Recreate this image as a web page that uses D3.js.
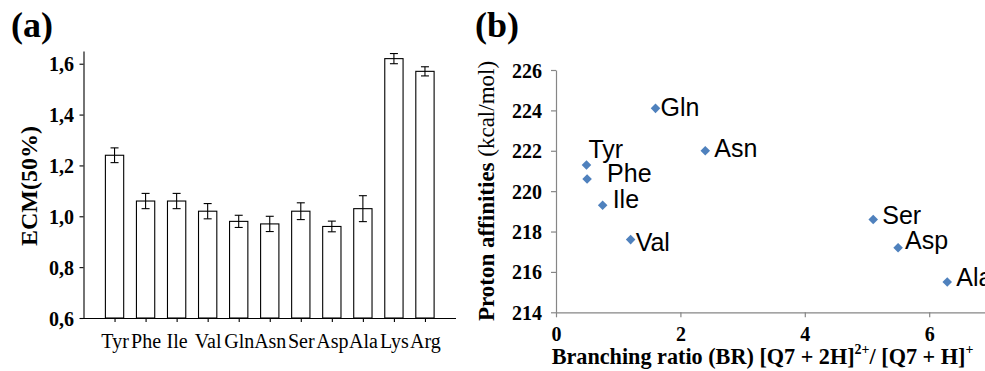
<!DOCTYPE html>
<html><head><meta charset="utf-8">
<script src="https://cdn.jsdelivr.net/npm/d3@7"></script>
<style>body{margin:0;background:#fff}svg{display:block}</style>
</head><body>
<svg id="c" width="985" height="371"></svg>
<script>
// Panel (a) data
const categoriesA = ["Tyr","Phe","Ile","Val","Gln","Asn","Ser","Asp","Ala","Lys","Arg"];
const ecmValues   = [1.24, 1.06, 1.06, 1.02, 0.98, 0.97, 1.02, 0.96, 1.03, 1.62, 1.57];
const ecmErrors   = [0.029,0.03,0.03,0.03,0.024,0.03,0.033,0.021,0.051,0.02,0.018];
const yTicksA     = [0.6, 0.8, 1.0, 1.2, 1.4, 1.6];

// Panel (b) data
const pointNames  = ["Gln","Asn","Tyr","Phe","Ile","Val","Ser","Asp","Ala"];
const branching   = [1.6, 2.4, 0.49, 0.5, 0.75, 1.2, 5.1, 5.5, 6.29];
const protonAff   = [224.1, 222.0, 221.3, 220.6, 219.3, 217.6, 218.6, 217.2, 215.5];
const xTicksB     = [0, 2, 4, 6];
const yTicksB     = [214, 216, 218, 220, 222, 224, 226];
// label offsets (px) relative to each point
const labelDx = [5, 9, 2, 20, 10, 5, 9, 7, 9];
const labelDy = [7.5, 6.7, -7.3, 3, 2.4, 11.7, 4.7, 1.3, 4.3];

const svg = d3.select("#c");
const serif = "'Liberation Serif','Times New Roman',serif";
const sans = "'Liberation Sans',Arial,sans-serif";

// ---------- Panel (a) ----------
const xA = d3.scalePoint().domain(categoriesA).range([83.5, 456]).padding(1);
const yA = d3.scaleLinear().domain([0.6, 1.65]).range([318, 51]);
const gA = svg.append("g");
const barW = 18.3;

gA.selectAll("rect.bar").data(categoriesA).join("rect")
  .attr("x", d => xA(d) - barW/2)
  .attr("y", (d,i) => yA(ecmValues[i]))
  .attr("width", barW)
  .attr("height", (d,i) => yA(0.6) - yA(ecmValues[i]))
  .attr("fill", "#fff").attr("stroke", "#000").attr("stroke-width", 1.1);

const eb = gA.selectAll("g.eb").data(categoriesA).join("g").attr("stroke","#000").attr("stroke-width",1.1);
eb.append("line").attr("x1", d => xA(d)).attr("x2", d => xA(d))
  .attr("y1", (d,i) => yA(ecmValues[i]-ecmErrors[i])).attr("y2", (d,i) => yA(ecmValues[i]+ecmErrors[i]));
eb.append("line").attr("x1", d => xA(d)-4).attr("x2", d => xA(d)+4)
  .attr("y1", (d,i) => yA(ecmValues[i]+ecmErrors[i])).attr("y2", (d,i) => yA(ecmValues[i]+ecmErrors[i]));
eb.append("line").attr("x1", d => xA(d)-4).attr("x2", d => xA(d)+4)
  .attr("y1", (d,i) => yA(ecmValues[i]-ecmErrors[i])).attr("y2", (d,i) => yA(ecmValues[i]-ecmErrors[i]));

const axA_y = gA.append("g").attr("transform","translate(83.5,0)")
  .call(d3.axisLeft(yA).tickValues(yTicksA).tickSize(4).tickSizeOuter(0)
        .tickFormat(d => d3.format(".1f")(d).replace(".", ",")));
axA_y.selectAll("text").attr("font-family", serif).attr("font-weight","bold").attr("font-size",20)
  .attr("fill","#000").attr("x",-9.5).attr("dy","0.35em");
const axA_x = gA.append("g").attr("transform","translate(0,318)")
  .call(d3.axisBottom(xA).tickSize(4).tickSizeOuter(0));
axA_x.select(".domain").attr("d", "M80.5,0.5H456");
axA_x.selectAll("text").attr("font-family", serif).attr("font-size",20).attr("fill","#000")
  .attr("y", 30).attr("dy", 0);
gA.selectAll(".domain, .tick line").attr("stroke","#000").attr("stroke-width",1.1);

gA.append("text").attr("transform","translate(37,186) rotate(-90)").attr("text-anchor","middle")
  .attr("font-family", serif).attr("font-weight","bold").attr("font-size",24).text("ECM(50%)");
svg.append("text").attr("x",11).attr("y",37).attr("font-family",serif).attr("font-weight","bold")
  .attr("font-size",36).text("(a)");

// ---------- Panel (b) ----------
const xB = d3.scaleLinear().domain([0, 7]).range([556, 991.4]);
const yB = d3.scaleLinear().domain([214, 226]).range([312.3, 70]);
const gB = svg.append("g");
const gray = "#868686";

const axB_y = gB.append("g").attr("transform","translate(556,0)")
  .call(d3.axisLeft(yB).tickValues(yTicksB).tickSize(5).tickSizeOuter(0).tickFormat(d3.format("d")));
axB_y.selectAll("text").attr("font-family", serif).attr("font-weight","bold").attr("font-size",20)
  .attr("fill","#000").attr("x",-14).attr("dy","0.35em");
const axB_x = gB.append("g").attr("transform","translate(0,312.3)")
  .call(d3.axisBottom(xB).tickValues(xTicksB).tickSize(5).tickSizeOuter(0).tickFormat(d3.format("d")));
axB_x.selectAll("text").attr("font-family", serif).attr("font-weight","bold").attr("font-size",20)
  .attr("fill","#000").attr("y",29).attr("dy",0);
gB.selectAll(".domain, .tick line").attr("stroke",gray).attr("stroke-width",1.2);

gB.selectAll("path.pt").data(pointNames).join("path")
  .attr("d", d3.symbol().type(d3.symbolSquare2).size(58))
  .attr("transform", (d,i) => `translate(${xB(branching[i])},${yB(protonAff[i])}) rotate(45)`)
  .attr("fill","#4F81BD");
gB.selectAll("text.lbl").data(pointNames).join("text")
  .attr("x", (d,i) => xB(branching[i]) + labelDx[i])
  .attr("y", (d,i) => yB(protonAff[i]) + labelDy[i])
  .attr("font-family", sans).attr("font-size",25).attr("fill","#000").text(d => d);

const yt = gB.append("text").attr("transform","translate(494,191) rotate(-90)").attr("text-anchor","middle")
  .attr("font-family", serif).attr("font-size",23);
yt.append("tspan").attr("font-weight","bold").text("Proton affinities ");
yt.append("tspan").text("(kcal/mol)");

const xt = gB.append("text").attr("x",551.7).attr("y",364).attr("font-family",serif)
  .attr("font-weight","bold").attr("font-size",22.2);
xt.append("tspan").text("Branching ratio (BR) [Q7 + 2H]");
xt.append("tspan").attr("font-size",14).attr("dy",-10).text("2+");
xt.append("tspan").attr("dy",10).text("/ [Q7 + H]");
xt.append("tspan").attr("font-size",14).attr("dy",-10).text("+");

svg.append("text").attr("x",475).attr("y",37).attr("font-family",serif).attr("font-weight","bold")
  .attr("font-size",36).text("(b)");
</script>
</body></html>
